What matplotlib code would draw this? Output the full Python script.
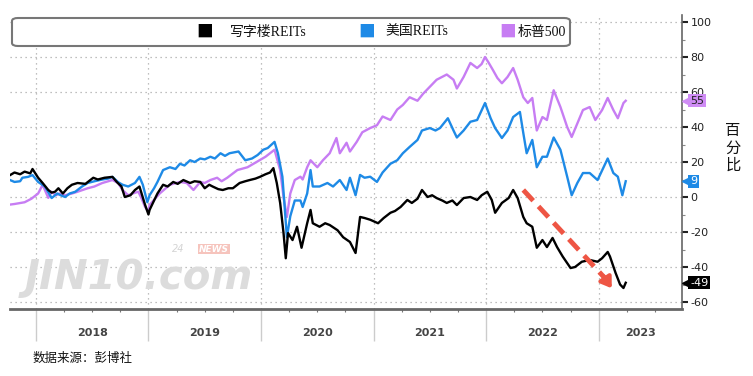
import matplotlib
matplotlib.use("Agg")
import matplotlib.pyplot as plt
import matplotlib.transforms as mtransforms
from matplotlib.patches import FancyBboxPatch
from matplotlib.ticker import MultipleLocator

plt.rcParams['font.family'] = ['Noto Sans CJK SC', 'DejaVu Sans']

# 写字楼REITs
office_t = [2017.77, 2017.81, 2017.86, 2017.90, 2017.95, 2017.97, 2018.02, 2018.06, 2018.11, 2018.14,
            2018.17, 2018.20, 2018.24, 2018.28, 2018.32, 2018.37, 2018.44, 2018.47, 2018.51, 2018.55,
            2018.61, 2018.68, 2018.72, 2018.76, 2018.79, 2018.84, 2018.88, 2018.92, 2018.97, 2019.00,
            2019.01, 2019.05, 2019.08, 2019.13, 2019.17, 2019.22, 2019.26, 2019.31, 2019.37, 2019.41,
            2019.46, 2019.50, 2019.54, 2019.57, 2019.62, 2019.66, 2019.71, 2019.75, 2019.81, 2019.86,
            2019.90, 2019.95, 2019.99, 2020.04, 2020.08, 2020.11, 2020.14, 2020.17, 2020.20, 2020.22,
            2020.24, 2020.28, 2020.32, 2020.36, 2020.41, 2020.44, 2020.46, 2020.52, 2020.57, 2020.61,
            2020.68, 2020.73, 2020.79, 2020.84, 2020.88, 2020.92, 2020.97, 2021.04, 2021.09, 2021.15,
            2021.19, 2021.24, 2021.30, 2021.34, 2021.39, 2021.43, 2021.48, 2021.52, 2021.56, 2021.61,
            2021.65, 2021.70, 2021.74, 2021.80, 2021.86, 2021.92, 2021.96, 2022.01, 2022.05, 2022.08,
            2022.14, 2022.20, 2022.24, 2022.28, 2022.33, 2022.36, 2022.41, 2022.45, 2022.50, 2022.54,
            2022.59, 2022.63, 2022.68, 2022.75, 2022.79, 2022.85, 2022.92, 2022.99, 2023.03, 2023.08,
            2023.10, 2023.15, 2023.19, 2023.22, 2023.24]
office_v = [12.5, 14, 13, 14.5, 13.5, 16, 11, 8, 4, 2.5,
            3, 5, 2, 5, 7, 8, 7.5, 9, 11, 10,
            11, 11.5, 8.5, 6, 0, 1, 4, 6, -4.5, -10,
            -7.4, -2, 2, 7, 6, 8.6, 7.5, 9.7, 8, 9,
            8.6, 5, 7, 6, 4.5, 4, 5, 5, 8, 9,
            9.7, 10.5, 11.5, 13, 14, 16.5, 8, -3.4, -20.6, -35,
            -20.6, -24.6, -17, -29, -15, -7.4, -15, -17, -15, -16,
            -19, -23, -25.7, -32, -11.4, -12, -13, -15, -12, -9,
            -8, -5.7, -1.7, -3.4, -1, 4, 0, 1, -0.6, -2,
            -3.4, -2, -4.6, -0.6, 0, -1.7, 1, 3, -1.7, -9,
            -3.4, -0.6, 4, -0.6, -11.4, -15, -17, -29, -24.6, -28.6,
            -23.4, -28.6, -34, -40.6, -40, -37, -36, -37, -35, -31.4,
            -34, -43.4, -50, -52, -49]

# 美国REITs
us_t = [2017.77, 2017.81, 2017.86, 2017.88, 2017.93, 2017.97, 2018.02, 2018.08, 2018.14, 2018.19,
        2018.22, 2018.26, 2018.30, 2018.35, 2018.41, 2018.46, 2018.52, 2018.59, 2018.64, 2018.68,
        2018.73, 2018.77, 2018.82, 2018.88, 2018.92, 2018.95, 2018.99, 2019.01, 2019.05, 2019.08,
        2019.13, 2019.19, 2019.24, 2019.28, 2019.32, 2019.37, 2019.41, 2019.46, 2019.50, 2019.55,
        2019.59, 2019.64, 2019.68, 2019.72, 2019.80, 2019.86, 2019.92, 2019.97, 2020.02, 2020.06,
        2020.12, 2020.15, 2020.19, 2020.21, 2020.23, 2020.26, 2020.30, 2020.35, 2020.37, 2020.41,
        2020.44, 2020.46, 2020.52, 2020.59, 2020.64, 2020.70, 2020.76, 2020.79, 2020.84, 2020.88,
        2020.92, 2020.97, 2021.03, 2021.08, 2021.15, 2021.21, 2021.26, 2021.32, 2021.39, 2021.43,
        2021.50, 2021.55, 2021.59, 2021.66, 2021.71, 2021.74, 2021.80, 2021.86, 2021.92, 2021.99,
        2022.04, 2022.08, 2022.14, 2022.19, 2022.24, 2022.30, 2022.33, 2022.36, 2022.41, 2022.45,
        2022.50, 2022.54, 2022.60, 2022.66, 2022.72, 2022.76, 2022.81, 2022.86, 2022.92, 2022.99,
        2023.08, 2023.13, 2023.17, 2023.21, 2023.24]
us_v = [9.7, 8.6, 9, 11, 11.5, 12.5, 8.6, 6, -0.6, 2,
        1, 0, 2, 3, 6, 8, 9, 10, 10.5, 11.5,
        8.5, 7, 6, 8, 11.5, 7, -3, 1, 5, 8.6,
        15.4, 17, 16, 19, 18, 21, 20, 22, 21.5, 23,
        22, 25, 23.5, 25, 26, 21, 22, 24, 27, 28,
        31.5, 25, 11.6, -5.7, -23, -11, -2, -2, -5.7, 2,
        15.4, 6, 6, 8, 6, 9.7, 4, 11, 1, 12.6,
        11, 11.6, 8.6, 14, 19, 21, 25, 28.6, 32.6, 38,
        39.4, 38, 39.4, 45, 38, 34, 38, 43, 44, 53.7,
        45, 39.4, 33.7, 38, 45.7, 48.6, 36.6, 25, 32.6, 17,
        23, 23, 34, 27, 11.6, 1, 8, 13.7, 13.7, 9.7,
        22, 13.7, 11.6, 1, 9]

# 标普500
spx_t = [2017.75, 2017.81, 2017.90, 2017.96, 2018.02, 2018.06, 2018.11, 2018.14, 2018.18, 2018.21,
         2018.26, 2018.32, 2018.37, 2018.46, 2018.52, 2018.59, 2018.68, 2018.73, 2018.77, 2018.82,
         2018.86, 2018.91, 2018.94, 2018.97, 2019.00, 2019.01, 2019.10, 2019.19, 2019.28, 2019.34,
         2019.40, 2019.46, 2019.50, 2019.55, 2019.61, 2019.65, 2019.70, 2019.79, 2019.88, 2019.96,
         2020.04, 2020.08, 2020.12, 2020.17, 2020.20, 2020.23, 2020.26, 2020.30, 2020.35, 2020.37,
         2020.41, 2020.44, 2020.50, 2020.55, 2020.61, 2020.67, 2020.70, 2020.76, 2020.79, 2020.85,
         2020.90, 2020.97, 2021.03, 2021.08, 2021.15, 2021.21, 2021.26, 2021.32, 2021.39, 2021.44,
         2021.50, 2021.56, 2021.65, 2021.71, 2021.74, 2021.80, 2021.86, 2021.92, 2021.96, 2021.99,
         2022.02, 2022.06, 2022.10, 2022.14, 2022.19, 2022.24, 2022.28, 2022.33, 2022.37, 2022.41,
         2022.45, 2022.50, 2022.54, 2022.60, 2022.66, 2022.72, 2022.76, 2022.81, 2022.86, 2022.92,
         2022.97, 2023.03, 2023.08, 2023.13, 2023.17, 2023.22, 2023.24]
spx_v = [-4.5, -4, -3, -1, 2, 7, -0.5, 3, 1, 2,
         1, 2, 3, 5, 6, 8, 9.7, 8, 4, 1,
         2, 3, -1, -5.7, -8.5, -4.5, 2, 7, 8.6, 8,
         4, 8.6, 8, 9.7, 11, 9, 11, 15.4, 17, 20,
         23, 25, 27, 15.4, 0, -11.4, 2, 9.7, 11.6, 10,
         17, 21, 17, 21, 25, 33.7, 25, 31, 26, 31.5,
         37, 39.4, 41, 46, 44, 50, 52.6, 57, 55, 59,
         63, 67, 70, 67, 62, 68.6, 76.6, 73.7, 76, 80,
         77, 72.6, 68, 65, 68.6, 73.7, 67, 57, 53.7, 56.6,
         38, 45.7, 44, 61, 51.4, 40, 34.3, 42, 49.7, 51.4,
         44, 49.7, 56.6, 49.7, 45, 53.7, 55]

series_names = ['写字楼REITs', '美国REITs', '标普500']
series_colors = ['#000000', '#1E8AE6', '#C77DF3']
label_box_colors = ['#000000', '#1E8AE6', '#CF8CF5']
label_text_colors = ['white', 'white', '#222222']
years = [2018, 2019, 2020, 2021, 2022, 2023]
y_ticks = [-60, -40, -20, 0, 20, 40, 60, 80, 100]

fig = plt.figure(figsize=(7.53, 3.76), dpi=100)
ax = fig.add_axes([10 / 753, 1 - 309 / 376, 672 / 753, 294 / 376])

# watermark (behind the lines)
fig.text(25 / 753, 1 - 278 / 376, 'JIN10.com', fontsize=29, fontweight='bold', fontstyle='italic',
         color='#dcdcdc', ha='left', va='center', family='DejaVu Sans', zorder=0)
fig.text(172 / 753, 1 - 249 / 376, '24', fontsize=7, color='#d4d4d4', fontstyle='italic',
         ha='left', va='center', family='DejaVu Sans', zorder=0)
fig.text(199 / 753, 1 - 249 / 376, 'NEWS', fontsize=6.5, color='white', fontweight='bold', fontstyle='italic',
         ha='left', va='center', family='DejaVu Sans', zorder=0,
         bbox=dict(boxstyle='square,pad=0.1', fc='#f6c4bd', ec='none'))
ax.patch.set_alpha(0)

series = [(office_t, office_v), (us_t, us_v), (spx_t, spx_v)]
# purple first, then blue, then black on top
for idx in [2, 1, 0]:
    t, v = series[idx]
    ax.plot(t, v, color=series_colors[idx], lw=1.7, solid_joinstyle='round', zorder=3 + (2 - idx))

ax.set_xlim(2017.77, 2023.74)
ax.set_ylim(-64, 104)

# right axis
ax.yaxis.tick_right()
ax.set_yticks(y_ticks)
ax.set_yticklabels([str(v) for v in y_ticks], fontsize=8, color='#222222', family='DejaVu Sans')
ax.yaxis.set_minor_locator(MultipleLocator(10))
ax.tick_params(axis='y', which='major', direction='out', length=4, width=1.5, color='#222222', pad=2)
ax.tick_params(axis='y', which='minor', direction='out', length=2, width=0.8, color='#888888')

# x axis: year separators and quarter ticks
ax.set_xticks(years)
ax.set_xticklabels([])
ax.xaxis.set_minor_locator(MultipleLocator(0.25))
ax.tick_params(axis='x', which='major', direction='out', length=23, width=1, color='#cccccc')
ax.tick_params(axis='x', which='minor', direction='out', length=2.5, width=0.8, color='#777777')

trans = mtransforms.blended_transform_factory(ax.transData, ax.transAxes)
label_pos = [y + 0.5 for y in years[:-1]] + [(2023 + 2023.74) / 2]
for yr, xp in zip(years, label_pos):
    ax.text(xp, -0.08, str(yr), transform=trans, ha='center', va='center',
            fontsize=8, color='#444444', fontweight='bold', family='DejaVu Sans')

# grid
ax.grid(True, axis='both', which='major', linestyle=(0, (1, 3)), color='#aaaaaa', lw=0.9)
ax.set_axisbelow(True)

for s in ['left', 'top']:
    ax.spines[s].set_visible(False)
ax.spines['bottom'].set_color('#666666')
ax.spines['bottom'].set_linewidth(2)
ax.spines['right'].set_color('#666666')
ax.spines['right'].set_linewidth(1.2)

# end-value labels on right axis
end_vals = [office_v[-1], us_v[-1], spx_v[-1]]
ytrans = mtransforms.blended_transform_factory(ax.transAxes, ax.transData)
for val, bc, tc in zip(end_vals, label_box_colors, label_text_colors):
    ax.plot([1.004], [val], marker='<', ms=5, color=bc, transform=ytrans, clip_on=False, zorder=6)
    ax.text(1.012, val, f'{val:g}', transform=ytrans, ha='left', va='center',
            fontsize=8, color=tc, family='DejaVu Sans', zorder=7,
            bbox=dict(boxstyle='square,pad=0.15', fc=bc, ec='none'))

# red dashed trend arrow
ax.plot([2022.33, 2023.05], [4, -46], color='#EE5544', lw=3.5, dashes=(3, 1.6), zorder=8,
        solid_capstyle='butt')
ax.annotate('', xy=(2023.13, -53.5), xytext=(2023.03, -44),
            arrowprops=dict(arrowstyle='-|>,head_length=0.6,head_width=0.4', color='#EE5544', lw=3),
            zorder=8)

# legend box
box = FancyBboxPatch((12 / 753, 1 - 46 / 376), 558 / 753, 28 / 376,
                     boxstyle='round,pad=0,rounding_size=0.008', transform=fig.transFigure,
                     fc='white', ec='#777777', lw=1.5, zorder=10)
fig.patches.append(box)
leg_sq_x = [205, 367, 508]
leg_txt_x = [230, 385, 518]
for name, col, sx, tx in zip(series_names, series_colors, leg_sq_x, leg_txt_x):
    fig.text(sx / 753, 1 - 32 / 376, '■', color=col, fontsize=12, ha='center', va='center', zorder=11)
    fig.text(tx / 753, 1 - 32 / 376, name, color='#111111', fontsize=10, ha='left', va='center',
             family=['Liberation Serif', 'Noto Sans CJK SC'], zorder=11)

# axis title
fig.text(733 / 753, 1 - 148 / 376, '百\n分\n比', fontsize=11, ha='center', va='center',
         linespacing=1.05, color='#111111')

# source
fig.text(33 / 753, 1 - 358 / 376, '数据来源：彭博社', fontsize=9, ha='left', va='center', color='#111111')

fig.savefig('out.png', dpi=100)
